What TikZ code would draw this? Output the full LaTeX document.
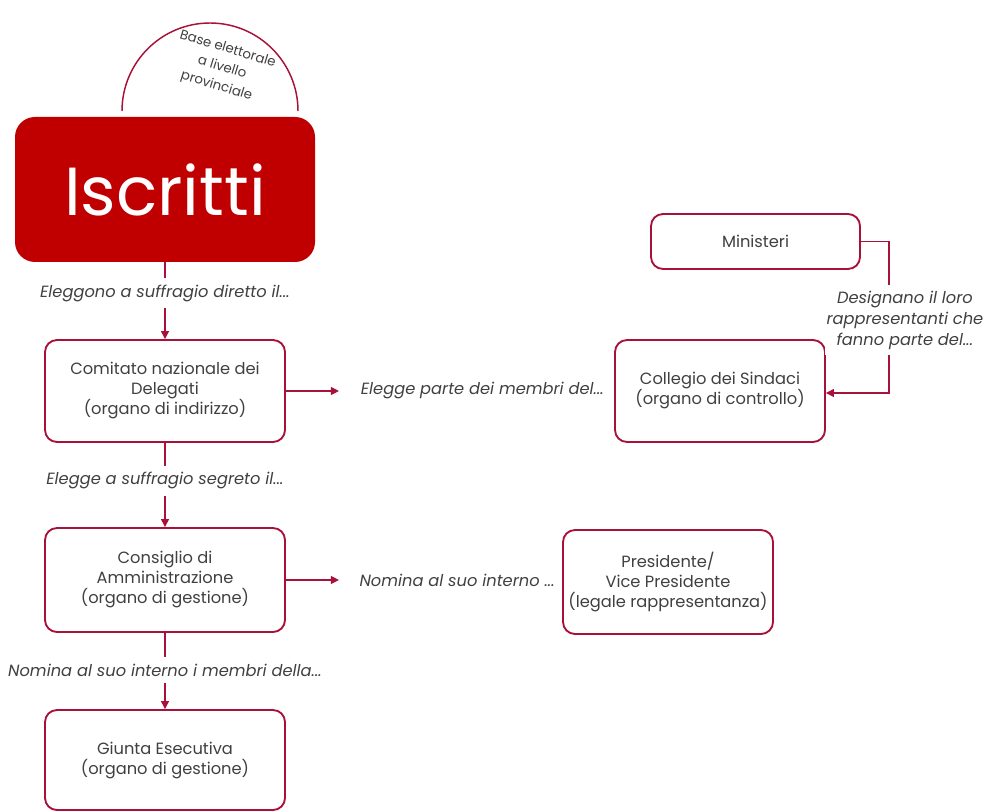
\documentclass[tikz,border=0pt]{standalone}
\usepackage{fontspec}
\setmainfont{Poppins}
\usepackage{xcolor}
\usetikzlibrary{arrows.meta,positioning}
\definecolor{bordo}{HTML}{A8123A}
\definecolor{rosso}{HTML}{C00000}
\definecolor{testo}{HTML}{404040}

\begin{document}
\begin{tikzpicture}[x=0.75pt, y=-0.75pt, >={Triangle[length=6pt,width=6pt]},
  font=\fontsize{12.2}{15}\selectfont, text=testo,
  blk/.style={draw=bordo, line width=1.4pt, rounded corners=9pt, fill=white, align=center, minimum width=#1},
  blk/.default=180pt,
  lab/.style={font=\fontsize{12.2}{16}\selectfont\itshape, inner sep=1pt, align=center},
  con/.style={draw=bordo, line width=0.9pt}]
  \useasboundingbox (0,0) rectangle (987,812);
  % base elettorale
  \draw[bordo, line width=1.1pt, fill=white] (122,111) arc[start angle=180, end angle=0, radius=66pt];
  \node[font=\fontsize{10}{14.5}\selectfont, rotate=-17, align=center] (base) at (222,68) {Base elettorale\\a livello\\provinciale};
  % iscritti
  \node[fill=rosso, rounded corners=15pt, minimum width=225pt, minimum height=108.75pt, text=white, font=\fontsize{51}{55}\selectfont] (isc) at (165,189.5) {Iscritti};
  % colonna sinistra
  \node[blk, minimum height=76.5pt] (com) at (165,391) {Comitato nazionale dei\\Delegati\\(organo di indirizzo)};
  \node[blk, minimum height=78pt] (cda) at (165,580) {Consiglio di\\Amministrazione\\(organo di gestione)};
  \node[blk, minimum height=75pt] (giu) at (165,760) {Giunta Esecutiva\\(organo di gestione)};
  % colonna destra
  \node[blk=156.75pt, minimum height=41.25pt] (min) at (755.5,241.5) {Ministeri};
  \node[blk=157.5pt, minimum height=76.5pt] (col) at (720,391) {Collegio dei Sindaci\\(organo di controllo)};
  \node[blk=157.5pt, minimum height=78pt] (pre) at (668,582) {Presidente/\\Vice Presidente\\(legale rappresentanza)};
  % collegamenti verticali
  \draw[con, ->] (isc.south) -- node[lab, fill=white, pos=0.4, inner ysep=5pt] {Eleggono a suffragio diretto il...} (com.north);
  \draw[con, ->] (com.south) -- node[lab, fill=white, pos=0.45, inner ysep=5pt] {Elegge a suffragio segreto il...} (cda.north);
  \draw[con, ->] (cda.south) -- node[lab, fill=white, pos=0.49, inner ysep=5pt] {Nomina al suo interno i membri della...} (giu.north);
  % collegamenti orizzontali
  \draw[con, ->] (com.east) -- ++(53,0) node[lab, right=15pt] (lcol) {Elegge parte dei membri del...};
  \draw[con, ->] (cda.east) -- ++(53,0) node[lab, right=14pt] (lpre) {Nomina al suo interno ...};
  % ministeri
  \draw[con, ->] (min.east) -- ++(28,0) coordinate (mr) |- node[lab, fill=white, pos=0.26, xshift=12pt, inner ysep=4pt] {Designano il loro\\rappresentanti che\\fanno parte del...} ([yshift=-1.5pt]col.east);
\end{tikzpicture}
\end{document}
